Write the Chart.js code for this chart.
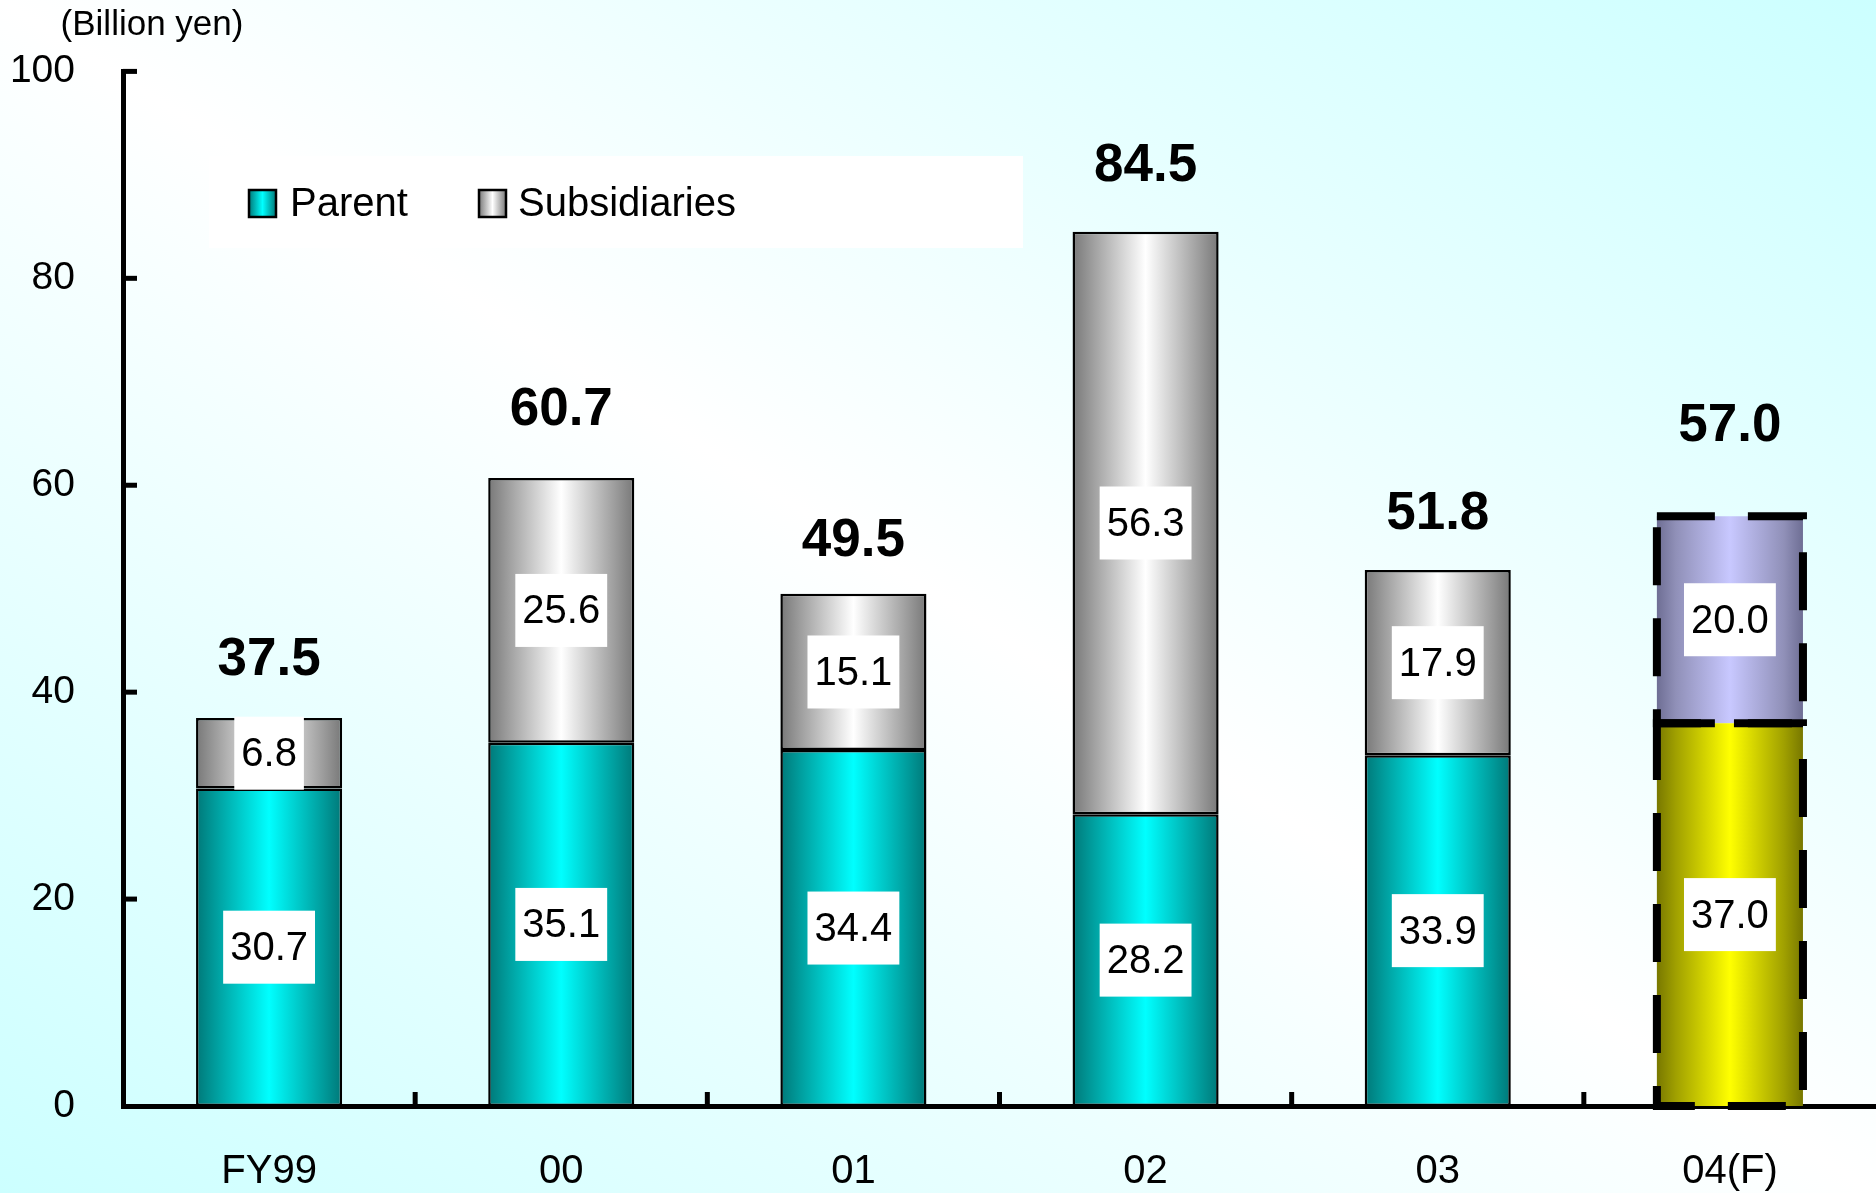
<!DOCTYPE html>
<html>
<head>
<meta charset="utf-8">
<title>Capital expenditure</title>
<script src="https://cdn.jsdelivr.net/npm/chart.js@4.4.1/dist/chart.umd.min.js"></script>
<style>
  html, body { margin: 0; padding: 0; overflow: hidden; background: #ffffff; }
  #wrap { position: relative; width: 1876px; height: 1193px; }
  canvas { display: block; }
</style>
</head>
<body>
<div id="wrap"><canvas id="chart" width="1876" height="1193"></canvas></div>
<script>
// ---- data ----
const categories = ['FY99', '00', '01', '02', '03', '04(F)'];
const parentValues = [30.7, 35.1, 34.4, 28.2, 33.9, 37.0];
const subsidiaryValues = [6.8, 25.6, 15.1, 56.3, 17.9, 20.0];
const yTickValues = [0, 20, 40, 60, 80, 100];
const seriesNames = ['Parent', 'Subsidiaries'];
const forecastIndex = 5;
const unitLabel = '(Billion yen)';

// ---- styling ----
const FONT = '"Liberation Sans", Arial, Helvetica, sans-serif';
const totalLift = [58, 68, 52, 65, 56, 90];   // distance of total label above bar top

const fills = {
  parent:   ['#007878', '#009c9c', '#00ffff'],
  subs:     ['#787878', '#9c9c9c', '#ffffff'],
  parentF:  ['#787800', '#a0a000', '#ffff00'],
  subsF:    ['#6e6e94', '#9090b8', '#c8c8ff']
};

function makeGradient(ctx2d, x0, x1, stops) {
  const g = ctx2d.createLinearGradient(x0, 0, x1, 0);
  g.addColorStop(0, stops[0]);
  g.addColorStop(0.13, stops[1]);
  g.addColorStop(0.5, stops[2]);
  g.addColorStop(0.87, stops[1]);
  g.addColorStop(1, stops[0]);
  return g;
}

function barFill(normal, forecast) {
  return (c) => {
    const chart = c.chart;
    const xs = chart.scales && chart.scales.x;
    const stops = c.dataIndex === forecastIndex ? forecast : normal;
    if (!xs || !chart.chartArea) return stops[2];
    const cx = xs.getPixelForValue(c.dataIndex);
    const half = xs.width / categories.length * 0.25;
    return makeGradient(chart.ctx, cx - half, cx + half, stops);
  };
}

// Diagonal background: white along the main diagonal, pale cyan toward the other corners
const backgroundPlugin = {
  id: 'bg',
  beforeDraw(chart) {
    const { ctx, width, height } = chart;
    ctx.save();
    ctx.scale(width, height);
    const g = ctx.createLinearGradient(0, 1, 1, 0);
    g.addColorStop(0, '#ccffff');
    g.addColorStop(0.5, '#ffffff');
    g.addColorStop(1, '#ccffff');
    ctx.fillStyle = g;
    ctx.fillRect(0, 0, 1, 1);
    ctx.restore();
  }
};

// Boxed legend in the upper plot area
const legendPlugin = {
  id: 'boxLegend',
  beforeDatasetsDraw(chart) {
    const ctx = chart.ctx;
    ctx.save();
    ctx.fillStyle = '#ffffff';
    ctx.fillRect(209, 156, 814, 92);
    const items = [
      { x: 249, stops: fills.parent, text: seriesNames[0], tx: 290 },
      { x: 479, stops: fills.subs, text: seriesNames[1], tx: 518 }
    ];
    items.forEach(it => {
      ctx.fillStyle = makeGradient(ctx, it.x, it.x + 27, it.stops);
      ctx.fillRect(it.x, 190, 27, 27);
      ctx.lineWidth = 2.5;
      ctx.strokeStyle = '#000';
      ctx.strokeRect(it.x, 190, 27, 27);
      ctx.fillStyle = '#000';
      ctx.font = '40px ' + FONT;
      ctx.textAlign = 'left';
      ctx.textBaseline = 'middle';
      ctx.fillText(it.text, it.tx, 205);
    });
    ctx.restore();
  }
};

// Tick marks, forecast outline, value boxes and totals
const annotatePlugin = {
  id: 'annotate',
  afterDatasetsDraw(chart) {
    const ctx = chart.ctx;
    const xs = chart.scales.x, ys = chart.scales.y;
    const area = chart.chartArea;
    ctx.save();

    // inward tick marks
    ctx.strokeStyle = '#000';
    ctx.lineWidth = 5;
    yTickValues.forEach(v => {
      if (v === 0) return;
      const y = ys.getPixelForValue(v);
      ctx.beginPath();
      ctx.moveTo(area.left, y);
      ctx.lineTo(area.left + 14, y);
      ctx.stroke();
    });
    for (let i = 0; i < categories.length - 1; i++) {
      const x = (xs.getPixelForValue(i) + xs.getPixelForValue(i + 1)) / 2;
      ctx.beginPath();
      ctx.moveTo(x, area.bottom);
      ctx.lineTo(x, area.bottom - 14);
      ctx.stroke();
    }

    const metaP = chart.getDatasetMeta(0);
    const metaS = chart.getDatasetMeta(1);

    // dashed outline around the forecast segments
    [metaP, metaS].forEach(meta => {
      const el = meta.data[forecastIndex];
      const l = el.x - el.width / 2, r = el.x + el.width / 2;
      const t = Math.min(el.y, el.base), b = Math.max(el.y, el.base);
      ctx.beginPath();
      ctx.setLineDash([58, 33]);
      ctx.lineWidth = 8;
      ctx.moveTo(l, t);
      ctx.lineTo(r, t);
      ctx.lineTo(r, b);
      ctx.lineTo(l, b);
      ctx.closePath();
      ctx.stroke();
    });
    ctx.setLineDash([]);

    // value boxes inside segments
    ctx.font = '40px ' + FONT;
    ctx.textAlign = 'center';
    ctx.textBaseline = 'middle';
    [[metaP, parentValues], [metaS, subsidiaryValues]].forEach(([meta, vals]) => {
      meta.data.forEach((el, i) => {
        const txt = vals[i].toFixed(1);
        const cy = (el.y + el.base) / 2;
        const w = ctx.measureText(txt).width + 14;
        const h = 73;
        ctx.fillStyle = '#ffffff';
        ctx.fillRect(el.x - w / 2, cy - h / 2, w, h);
        ctx.fillStyle = '#000';
        ctx.fillText(txt, el.x, cy + 2);
      });
    });

    // totals above bars
    ctx.font = 'bold 53px ' + FONT;
    metaS.data.forEach((el, i) => {
      const total = parentValues[i] + subsidiaryValues[i];
      ctx.fillStyle = '#000';
      ctx.fillText(total.toFixed(1), el.x, el.y - totalLift[i]);
    });

    // unit caption
    ctx.font = '35px ' + FONT;
    ctx.fillText(unitLabel, 152, 25);

    ctx.restore();
  }
};

new Chart(document.getElementById('chart'), {
  type: 'bar',
  data: {
    labels: categories,
    datasets: [
      {
        label: seriesNames[0],
        data: parentValues,
        backgroundColor: barFill(fills.parent, fills.parentF),
        borderColor: '#000',
        borderWidth: (c) => c.dataIndex === forecastIndex ? 0 : 2.5,
        borderSkipped: false
      },
      {
        label: seriesNames[1],
        data: subsidiaryValues,
        backgroundColor: barFill(fills.subs, fills.subsF),
        borderColor: '#000',
        borderWidth: (c) => c.dataIndex === forecastIndex ? 0 : 2.5,
        borderSkipped: false
      }
    ]
  },
  options: {
    responsive: false,
    animation: false,
    devicePixelRatio: 1,
    layout: { padding: { top: 69, right: 0, bottom: 0, left: 0 } },
    datasets: { bar: { barPercentage: 1, categoryPercentage: 0.5 } },
    plugins: { legend: { display: false }, tooltip: { enabled: false } },
    scales: {
      x: {
        stacked: true,
        grid: { display: false, drawTicks: false },
        border: { display: true, color: '#000', width: 5 },
        ticks: { color: '#000', font: { family: FONT, size: 40 }, padding: 42, maxRotation: 0 },
        afterFit(scale) { scale.height = 87; }
      },
      y: {
        stacked: true,
        min: 0,
        max: 100,
        afterBuildTicks(scale) { scale.ticks = yTickValues.map(v => ({ value: v })); },
        grid: { display: false, drawTicks: false },
        border: { display: true, color: '#000', width: 5 },
        ticks: { color: '#000', font: { family: FONT, size: 39 }, padding: 48 },
        afterFit(scale) { scale.width = 123; }
      }
    }
  },
  plugins: [backgroundPlugin, legendPlugin, annotatePlugin]
});
</script>
</body>
</html>
